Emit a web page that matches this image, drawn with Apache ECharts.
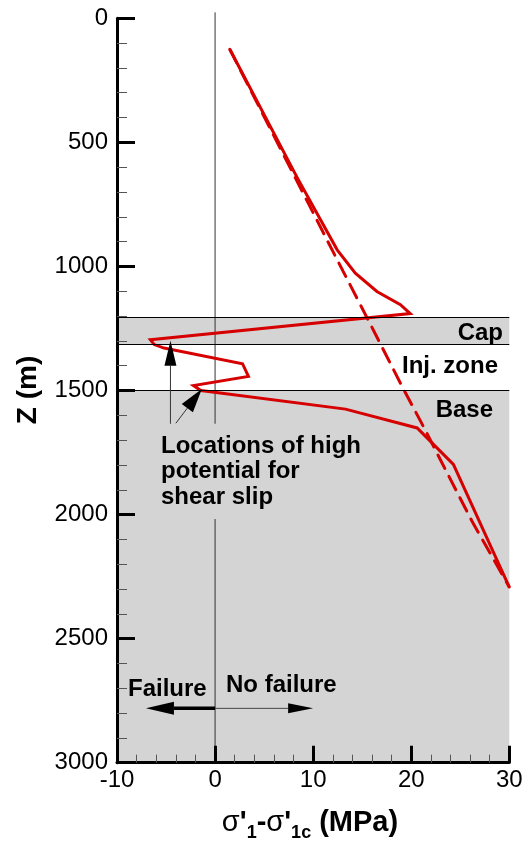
<!DOCTYPE html>
<html>
<head>
<meta charset="utf-8">
<script src="https://cdn.jsdelivr.net/npm/echarts@6/dist/echarts.min.js"></script>
<style>
html,body{margin:0;padding:0;background:#fff;}
#c{width:526px;height:845px;}
</style>
</head>
<body>
<div id="c"></div>
<script>
// ---- data ----
const X_TICKS = [-10, 0, 10, 20, 30];
const Z_TICKS = [0, 500, 1000, 1500, 2000, 2500, 3000];

// solid curve: sigma'1 - sigma'1c (MPa) vs depth Z (m)
const SOLID_X = [1.5, 8.4, 12.45, 14.3, 16.5, 18.9, 19.9, -6.6, -6.2, -5.2, 2.8, 3.4, -2.2, -1.45, 13.3, 20.6, 24.3, 30.0];
const SOLID_Z = [125, 644, 933, 1027, 1101, 1154, 1190, 1295, 1315, 1329, 1392, 1443, 1480, 1500, 1575, 1651, 1798, 2292];

// dashed curve
const DASH_X = [1.5, 9.5, 13.06, 15.94, 19.06, 21.4, 22.96, 26.2, 30.0];
const DASH_Z = [125, 745, 1020, 1241, 1483, 1657, 1778, 2027, 2292];

// layer boundaries (m)
const CAP_TOP = 1205, CAP_BOTTOM = 1313, BASE_TOP = 1500, BASE_BOTTOM = 3000;

// zero reference line pieces (x=0), interrupted by the annotation text
const ZERO_A_Z = [-24, 1634];
const ZERO_B_Z = [2018, 3000];

// annotation arrows: from (x,z) -> to (x,z)
const ARROW_FROM_X = [-4.55, -4.0, 0, 0];
const ARROW_FROM_Z = [1634, 1632, 2781, 2781];
const ARROW_TO_X = [-4.55, -1.35, -7.05, 10];
const ARROW_TO_Z = [1300, 1494, 2781, 2781];

// ---- styles ----
const ARROW_STYLE = [
  {head: 25, w: 12, lw: 1, color: '#333'},
  {head: 24, w: 14, lw: 1, color: '#333'},
  {head: 28, w: 13, lw: 3.5, color: '#000'},
  {head: 25, w: 10, lw: 1, color: '#444'}
];
const RED = '#d60000';
const FONT = '"Liberation Sans", Arial, Helvetica, sans-serif';

const solidData = SOLID_X.map((x, i) => [x, SOLID_Z[i]]);
const dashData = DASH_X.map((x, i) => [x, DASH_Z[i]]);
const arrowData = ARROW_FROM_X.map((x, i) => [x, ARROW_FROM_Z[i], ARROW_TO_X[i], ARROW_TO_Z[i]]);

const chart = echarts.init(document.getElementById('c'), null, {renderer: 'canvas'});

const axisCommon = {
  z: 10,
  splitLine: {show: false},
  axisLine: {show: true, onZero: false, lineStyle: {color: '#000', width: 3}},
  axisTick: {show: true, inside: true, lineStyle: {color: '#000', width: 3}},
  minorTick: {show: true, splitNumber: 5, lineStyle: {color: '#555', width: 1}},
  axisLabel: {color: '#000', fontSize: 24, fontFamily: FONT, formatter: v => String(v)}
};

const option = {
  animation: false,
  backgroundColor: '#fff',
  grid: {left: 117, right: 16.7, top: 18.3, bottom: 82.3, containLabel: false, outerBoundsMode: 'none'},
  xAxis: Object.assign({}, axisCommon, {
    type: 'value',
    min: X_TICKS[0], max: X_TICKS[X_TICKS.length - 1], interval: X_TICKS[1] - X_TICKS[0],
    axisTick: Object.assign({}, axisCommon.axisTick, {length: 17}),
    minorTick: Object.assign({}, axisCommon.minorTick, {length: 8}),
    axisLabel: Object.assign({}, axisCommon.axisLabel, {margin: 6})
  }),
  yAxis: Object.assign({}, axisCommon, {
    type: 'value', inverse: true,
    min: Z_TICKS[0], max: Z_TICKS[Z_TICKS.length - 1], interval: Z_TICKS[1] - Z_TICKS[0],
    axisTick: Object.assign({}, axisCommon.axisTick, {length: 18}),
    minorTick: Object.assign({}, axisCommon.minorTick, {length: 10}),
    axisLabel: Object.assign({}, axisCommon.axisLabel, {margin: 9})
  }),
  series: [
    {
      name: 'bands', type: 'line', z: 1, silent: true, symbol: 'none',
      data: [[X_TICKS[0], Z_TICKS[0]]],
      lineStyle: {opacity: 0},
      markArea: {
        silent: true,
        itemStyle: {color: '#d4d4d4'},
        data: [
          [{yAxis: CAP_TOP}, {yAxis: CAP_BOTTOM}],
          [{yAxis: BASE_TOP}, {yAxis: BASE_BOTTOM}]
        ]
      },
      markLine: {
        silent: true, symbol: ['none', 'none'], label: {show: false},
        lineStyle: {color: '#000', width: 1, type: 'solid'},
        data: [{yAxis: CAP_TOP}, {yAxis: CAP_BOTTOM}, {yAxis: BASE_TOP}]
      }
    },
    {
      name: 'zeroA', type: 'line', z: 2, silent: true, symbol: 'none', clip: false,
      data: ZERO_A_Z.map(z => [0, z]),
      lineStyle: {color: '#333', width: 1}
    },
    {
      name: 'zeroB', type: 'line', z: 2, silent: true, symbol: 'none', clip: false,
      data: ZERO_B_Z.map(z => [0, z]),
      lineStyle: {color: '#333', width: 1}
    },
    {
      name: 'dashed', type: 'line', z: 3, symbol: 'none', clip: false,
      data: dashData,
      lineStyle: {color: RED, width: 3, type: [15, 9], cap: 'round'}
    },
    {
      name: 'solid', type: 'line', z: 4, symbol: 'none', clip: false,
      data: solidData,
      lineStyle: {color: RED, width: 3, join: 'miter', miterLimit: 4}
    },
    {
      name: 'arrows', type: 'custom', z: 5, silent: true, clip: false,
      data: arrowData,
      encode: {x: [0, 2], y: [1, 3]},
      renderItem: function (params, api) {
        const i = params.dataIndex;
        const st = ARROW_STYLE[i];
        const p1 = api.coord([api.value(0), api.value(1)]);
        const p2 = api.coord([api.value(2), api.value(3)]);
        const dx = p2[0] - p1[0], dy = p2[1] - p1[1];
        const len = Math.hypot(dx, dy);
        const ux = dx / len, uy = dy / len, nx = -uy, ny = ux;
        const bx = p2[0] - ux * st.head, by = p2[1] - uy * st.head;
        return {
          type: 'group',
          children: [
            {type: 'line', shape: {x1: p1[0], y1: p1[1], x2: bx, y2: by}, style: {stroke: st.color, lineWidth: st.lw}},
            {type: 'polygon', shape: {points: [[p2[0], p2[1]], [bx + nx * st.w / 2, by + ny * st.w / 2], [bx - nx * st.w / 2, by - ny * st.w / 2]]}, style: {fill: '#000'}}
          ]
        };
      }
    }
  ],
  graphic: [
    {type: 'text', z: 100, x: 503, y: 333, style: {text: 'Cap', font: 'bold 24px ' + FONT, fill: '#000', align: 'right', verticalAlign: 'middle'}},
    {type: 'text', z: 100, x: 498, y: 366, style: {text: 'Inj. zone', font: 'bold 24px ' + FONT, fill: '#000', align: 'right', verticalAlign: 'middle'}},
    {type: 'text', z: 100, x: 493, y: 410, style: {text: 'Base', font: 'bold 24px ' + FONT, fill: '#000', align: 'right', verticalAlign: 'middle'}},
    {type: 'text', z: 100, x: 161, y: 446, style: {text: 'Locations of high', font: 'bold 24px ' + FONT, fill: '#000', align: 'left', verticalAlign: 'middle'}},
    {type: 'text', z: 100, x: 161, y: 471.5, style: {text: 'potential for', font: 'bold 24px ' + FONT, fill: '#000', align: 'left', verticalAlign: 'middle'}},
    {type: 'text', z: 100, x: 161, y: 497, style: {text: 'shear slip', font: 'bold 24px ' + FONT, fill: '#000', align: 'left', verticalAlign: 'middle'}},
    {type: 'text', z: 100, x: 128, y: 689, style: {text: 'Failure', font: 'bold 24px ' + FONT, fill: '#000', align: 'left', verticalAlign: 'middle'}},
    {type: 'text', z: 100, x: 226, y: 685, style: {text: 'No failure', font: 'bold 24px ' + FONT, fill: '#000', align: 'left', verticalAlign: 'middle'}},
    {type: 'text', z: 100, x: 28, y: 390, rotation: Math.PI / 2,
      style: {text: 'Z (m)', font: 'bold 28px ' + FONT, fill: '#000', align: 'center', verticalAlign: 'middle'}},
    {type: 'text', z: 100, x: 310, y: 808,
      style: {
        text: '{s|σ}{b|\'}{sub|1}{b|-}{s|σ}{b|\'}{sub|1c}{b| (MPa)}',
        align: 'center', verticalAlign: 'top', fill: '#000',
        rich: {
          s: {fontFamily: FONT, fontSize: 29, fontWeight: 'normal', lineHeight: 29, verticalAlign: 'top', fill: '#000'},
          b: {fontFamily: FONT, fontSize: 29, fontWeight: 'bold', lineHeight: 29, verticalAlign: 'top', fill: '#000'},
          sub: {fontFamily: FONT, fontSize: 18, fontWeight: 'bold', lineHeight: 34, verticalAlign: 'bottom', fill: '#000'}
        }
      }}
  ]
};
chart.setOption(option);
</script>
</body>
</html>
